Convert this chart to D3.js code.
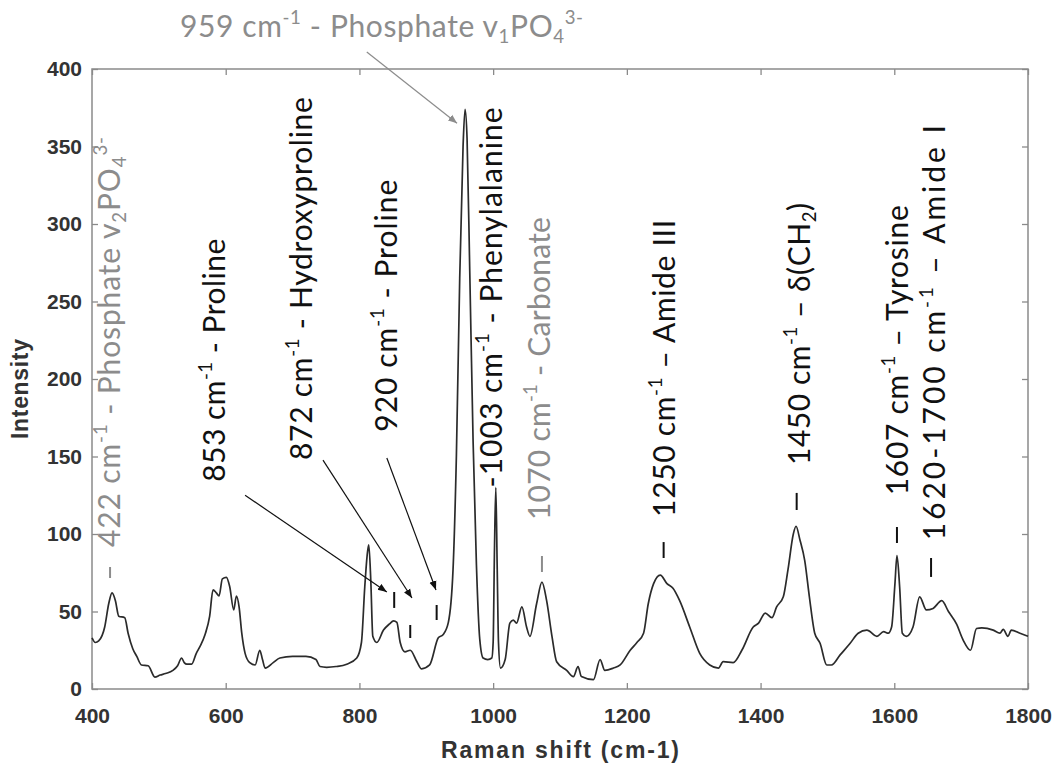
<!DOCTYPE html>
<html>
<head>
<meta charset="utf-8">
<script src="https://cdn.jsdelivr.net/npm/d3@7"></script>
<style>
  body { margin: 0; background: #fff; }
</style>
</head>
<body>
<script>
// spectrum: Raman shift (cm-1) and intensity
var shift = [400, 405, 410, 419, 425, 430, 435, 440, 449, 454, 461, 467, 474, 484, 494, 502, 510, 521, 528,
  534, 538, 542, 549, 556, 561, 569, 576, 581, 586, 590, 595, 601, 606, 612, 616, 620, 624, 629, 636,
  644, 651, 655, 659, 671, 681, 700, 720, 735, 741, 751, 765, 781, 796, 803, 808, 812, 814, 817, 820,
  826, 836, 845, 851, 856, 861, 868, 876, 886, 893, 905, 918, 925, 933, 940, 945, 950, 955, 958, 961,
  965, 970, 975, 980, 985, 992, 998, 1000, 1002, 1004, 1006, 1008, 1011, 1018, 1025, 1030, 1035, 1043,
  1050, 1055, 1065, 1073, 1080, 1088, 1095, 1110, 1120, 1127, 1132, 1150, 1160, 1167, 1180, 1190, 1205,
  1215, 1225, 1232, 1240, 1250, 1260, 1269, 1279, 1294, 1309, 1324, 1337, 1344, 1359, 1372, 1389, 1397,
  1407, 1417, 1424, 1434, 1441, 1449, 1453, 1459, 1466, 1473, 1481, 1489, 1499, 1506, 1519, 1534, 1546,
  1559, 1574, 1584, 1591, 1596, 1601, 1604, 1608, 1612, 1618, 1628, 1638, 1648, 1658, 1671, 1681, 1693,
  1703, 1714, 1723, 1731, 1748, 1758, 1763, 1770, 1775, 1788, 1800];
var intensity = [33, 30, 31, 40, 55, 62, 57, 47, 46, 36, 26, 21, 15.5, 15, 7.7, 9, 10, 12, 15,
  20, 17, 16, 16, 23, 27, 35, 47, 64, 62, 60, 71, 72, 66, 51, 60, 53, 36, 23, 17,
  15.5, 25, 19, 13.5, 17, 20, 21, 21, 19, 14.5, 14, 14.5, 16, 20, 30, 66, 88, 93, 70, 34,
  30, 38, 42, 44, 43, 30, 24, 25, 17.6, 13, 15.5, 33, 35, 43, 77, 150, 265, 350, 374, 355,
  270, 160, 80, 32, 20, 19, 20, 30, 90, 130, 80, 30, 13.5, 19, 42.5, 44.5, 42.5, 53,
  40, 34, 55, 69, 57, 34, 17.6, 12, 8, 14.4, 8, 6, 19, 12, 13.5, 15.5, 25,
  30, 36, 55, 68, 73.5, 68, 65, 57, 40, 23, 15.5, 13.5, 17.6, 17, 25, 40, 42.5,
  49, 46, 53, 59.5, 77, 100, 105, 96, 83, 59.5, 36, 29.5, 15.5, 15.5, 22, 29.5, 36,
  38, 34, 37, 36, 40, 68, 86, 66, 36, 34, 40, 59.5, 51, 52, 57, 50, 42,
  31.6, 25, 39, 39.5, 38, 36, 38.5, 34, 38, 36, 34];

var xTicks = [400, 600, 800, 1000, 1200, 1400, 1600, 1800];
var yTicks = [0, 50, 100, 150, 200, 250, 300, 350, 400];

// peak labels: text (^{} superscript, _{} subscript), anchor in data units, grey or black
var peakLabels = [
  { text: '422 cm^{-1} - Phosphate v_{2}PO_{4}^{3-}', x: 442, y: 91.6, len: 410, grey: true },
  { text: '853 cm^{-1} - Proline', x: 599, y: 133.7, len: 243 },
  { text: '872 cm^{-1} - Hydroxyproline', x: 729, y: 147.7, len: 363 },
  { text: '920 cm^{-1} - Proline', x: 856, y: 166, len: 252 },
  { text: '-1003 cm^{-1} - Phenylalanine', x: 1013, y: 130, len: 380 },
  { text: '1070 cm^{-1} - Carbonate', x: 1085, y: 109, len: 303, grey: true },
  { text: '1250 cm^{-1} \u2013 Amide III', x: 1272, y: 111, len: 297 },
  { text: '1450 cm^{-1} \u2013 \u03b4(CH_{2})', x: 1474, y: 144.5, len: 262 },
  { text: '1607 cm^{-1} \u2013 Tyrosine', x: 1620.5, y: 125, len: 290 },
  { text: '1620-1700 cm^{-1} \u2013 Amide I', x: 1676, y: 96, len: 415 }
];
var topLabel = { text: '959 cm^{-1} - Phosphate v_{1}PO_{4}^{3-}', x: 530, y: 420, len: 403 };

// short dashes above the peaks
var peakMarks = [
  { x: 427, y0: 71.6, y1: 78.7, grey: true },
  { x: 852, y0: 52.3, y1: 62.6 },
  { x: 876, y0: 32.9, y1: 41.3 },
  { x: 915.5, y0: 44.5, y1: 54.2 },
  { x: 1073, y0: 75.5, y1: 85.8, grey: true },
  { x: 1255, y0: 84.5, y1: 94.8 },
  { x: 1454, y0: 115.5, y1: 126.5 },
  { x: 1604, y0: 94.2, y1: 104.5 },
  { x: 1655, y0: 72.3, y1: 84.5 }
];

var arrows = [
  { x0: 629, y0: 125, x1: 841, y1: 62.6 },
  { x0: 745.5, y0: 147.7, x1: 878.6, y1: 58.7 },
  { x0: 841, y0: 149, x1: 914.5, y1: 63.9 },
  { x0: 811, y0: 411, x1: 946, y1: 365, grey: true }
];

var width = 1057, height = 766;
var margin = { top: 69, right: 29, bottom: 77, left: 92 };
var black = '#111', grey = '#8c8c8c', axisColor = '#8a8a8a';

var x = d3.scaleLinear().domain([400, 1800]).range([margin.left, width - margin.right]);
var y = d3.scaleLinear().domain([0, 400]).range([height - margin.bottom, margin.top]);

var svg = d3.select('body').append('svg')
  .attr('width', width)
  .attr('height', height);

var defs = svg.append('defs');
[['headBlack', black], ['headGrey', grey]].forEach(function(m) {
  defs.append('marker')
    .attr('id', m[0])
    .attr('viewBox', '0 0 10 10')
    .attr('refX', 10).attr('refY', 5)
    .attr('markerWidth', 9).attr('markerHeight', 9)
    .attr('markerUnits', 'userSpaceOnUse')
    .attr('orient', 'auto')
    .append('path')
    .attr('d', 'M0,1 L10,5 L0,9 Z')
    .attr('fill', m[1]);
});

// axes, MATLAB style box with inward ticks
function styleAxis(g) {
  g.select('.domain').remove();
  g.selectAll('.tick line').attr('stroke', axisColor).attr('stroke-width', 1.3);
  g.selectAll('.tick text')
    .attr('fill', '#333')
    .attr('font-family', 'Liberation Sans, Arial, sans-serif')
    .attr('font-weight', 'bold')
    .attr('font-size', '21px');
}

svg.append('g')
  .attr('transform', 'translate(0,' + y(0) + ')')
  .call(d3.axisBottom(x).tickValues(xTicks).tickSize(-6).tickPadding(19).tickFormat(d3.format('d')))
  .call(styleAxis);
svg.append('g')
  .attr('transform', 'translate(0,' + y(400) + ')')
  .call(d3.axisTop(x).tickValues(xTicks).tickSize(-6).tickFormat(''))
  .call(styleAxis);
svg.append('g')
  .attr('transform', 'translate(' + x(400) + ',0)')
  .call(d3.axisLeft(y).tickValues(yTicks).tickSize(-6).tickPadding(10).tickFormat(d3.format('d')))
  .call(styleAxis);
svg.append('g')
  .attr('transform', 'translate(' + x(1800) + ',0)')
  .call(d3.axisRight(y).tickValues(yTicks).tickSize(-6).tickFormat(''))
  .call(styleAxis);

svg.append('rect')
  .attr('x', x(400)).attr('y', y(400))
  .attr('width', x(1800) - x(400)).attr('height', y(0) - y(400))
  .attr('fill', 'none')
  .attr('stroke', axisColor)
  .attr('stroke-width', 1.5);

svg.append('text')
  .attr('x', (x(400) + x(1800)) / 2)
  .attr('y', 758)
  .attr('text-anchor', 'middle')
  .attr('font-family', 'Liberation Sans, Arial, sans-serif')
  .attr('font-weight', 'bold')
  .attr('font-size', '23px')
  .attr('fill', '#333')
  .attr('textLength', 238)
  .text('Raman shift (cm-1)');

svg.append('text')
  .attr('transform', 'translate(28,' + (y(200) + 10) + ') rotate(-90)')
  .attr('text-anchor', 'middle')
  .attr('font-family', 'Liberation Sans, Arial, sans-serif')
  .attr('font-weight', 'bold')
  .attr('font-size', '23px')
  .attr('fill', '#333')
  .attr('textLength', 100)
  .text('Intensity');

// spectrum
var line = d3.line()
  .x(function(d) { return x(d[0]); })
  .y(function(d) { return y(d[1]); })
  .curve(d3.curveMonotoneX);

svg.append('path')
  .datum(d3.zip(shift, intensity))
  .attr('d', line)
  .attr('fill', 'none')
  .attr('stroke', '#2b2b2b')
  .attr('stroke-width', 1.7)
  .attr('stroke-linejoin', 'round');

// dashes over the peaks
svg.append('g')
  .selectAll('line')
  .data(peakMarks)
  .enter()
  .append('line')
  .attr('x1', function(d) { return x(d.x); })
  .attr('x2', function(d) { return x(d.x); })
  .attr('y1', function(d) { return y(d.y0); })
  .attr('y2', function(d) { return y(d.y1); })
  .attr('stroke', function(d) { return d.grey ? grey : black; })
  .attr('stroke-width', 2);

// arrows
svg.append('g')
  .selectAll('line')
  .data(arrows)
  .enter()
  .append('line')
  .attr('x1', function(d) { return x(d.x0); })
  .attr('y1', function(d) { return y(d.y0); })
  .attr('x2', function(d) { return x(d.x1); })
  .attr('y2', function(d) { return y(d.y1); })
  .attr('stroke', function(d) { return d.grey ? grey : black; })
  .attr('stroke-width', 1.2)
  .attr('marker-end', function(d) { return d.grey ? 'url(#headGrey)' : 'url(#headBlack)'; });

// text with ^{} and _{} pieces
var fontSize = 30;
function richText(sel, str) {
  var parts = str.split(/(\^\{[^}]*\}|_\{[^}]*\})/).filter(function(p) { return p.length; });
  var shiftNow = 0;
  parts.forEach(function(p) {
    var kind = p[0] === '^' && p[1] === '{' ? 'sup' : (p[0] === '_' && p[1] === '{' ? 'sub' : 'normal');
    var txt = kind === 'normal' ? p : p.slice(2, -1);
    var target = kind === 'sup' ? -0.42 * fontSize : (kind === 'sub' ? 0.2 * fontSize : 0);
    sel.append('tspan')
      .attr('dy', target - shiftNow)
      .attr('font-size', kind === 'normal' ? fontSize : fontSize * 0.62)
      .text(txt);
    shiftNow = target;
  });
}

svg.append('g')
  .selectAll('text')
  .data(peakLabels)
  .enter()
  .append('text')
  .attr('transform', function(d) { return 'translate(' + x(d.x) + ',' + y(d.y) + ') rotate(-90)'; })
  .attr('font-family', 'Lato, Open Sans, sans-serif')
  .attr('font-size', fontSize)
  .attr('fill', function(d) { return d.grey ? grey : black; })
  .attr('textLength', function(d) { return d.len; })
  .attr('lengthAdjust', 'spacing')
  .each(function(d) { richText(d3.select(this), d.text); });

svg.append('text')
  .attr('x', 180)
  .attr('y', 37)
  .attr('font-family', 'Lato, Open Sans, sans-serif')
  .attr('font-size', fontSize)
  .attr('fill', grey)
  .attr('textLength', topLabel.len)
  .attr('lengthAdjust', 'spacing')
  .call(richText, topLabel.text);
</script>
</body>
</html>
